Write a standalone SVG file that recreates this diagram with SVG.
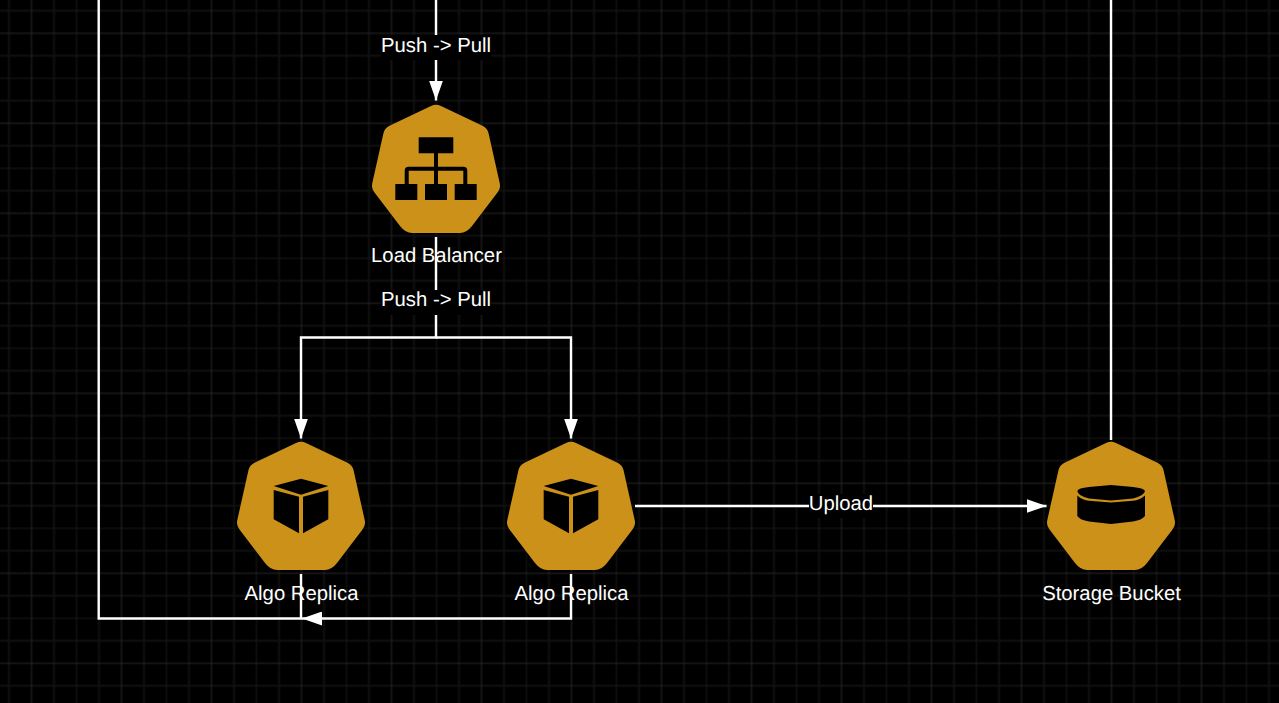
<svg xmlns="http://www.w3.org/2000/svg" width="1279" height="703" viewBox="0 0 1279 703">
<defs>
<pattern id="grid" width="90" height="90" x="7.500" y="9.300" patternUnits="userSpaceOnUse">
<path d="M1.500 0V90M46.500 0V90M0 1.500H90M0 46.500H90" stroke="#101010" stroke-width="2" fill="none"/>
<path d="M69 0V90M0 69H90" stroke="#181818" stroke-width="1" fill="none"/>
<path d="M24 0V90M0 24H90" stroke="#262626" stroke-width="1" fill="none"/>
</pattern>
<marker id="arrow" viewBox="0 0 20 14" refX="20" refY="7" markerWidth="20" markerHeight="14" markerUnits="userSpaceOnUse" orient="auto"><path d="M0 0L20 7L0 14Z" fill="#fff"/></marker>
<path id="hept" d="M-5 1.500Q0 -1 5 1.500L47 21.500Q51.500 24 52.500 28.500L63.800 79Q64.800 84 61.500 88L36 121.500Q30.500 128.500 24 128.500H-24Q-30.500 128.500 -36 121.500L-61.500 88Q-64.800 84 -63.800 79L-52.500 28.500Q-51.500 24 -47 21.500Z" fill="#cb9119"/>
<g id="cube"><path d="M0 -27.300L27.300 -20L0 -11.300L-27.300 -20Z"/><path d="M-27.300 -16L-2 -9.300V27.300L-27.300 13.300Z"/><path d="M27.300 -16L2 -9.300V27.300L27.300 13.300Z"/></g>
</defs>
<style>
.c{fill:none;stroke:#fff;stroke-width:2.400}
text{font-family:"Liberation Sans",Arial,sans-serif;font-size:20.300px;fill:#fff;text-anchor:middle;text-rendering:geometricPrecision}
.bg{fill:#000}
</style>
<rect width="1279" height="703" fill="#000"/>
<rect width="1279" height="703" fill="url(#grid)"/>
<g id="connectors">
<path class="c" d="M436 0V100.500" marker-end="url(#arrow)"/>
<path class="c" d="M436 237V337.500H301V438.500" marker-end="url(#arrow)"/>
<path class="c" d="M436 337.500H571V438.500" marker-end="url(#arrow)"/>
<path class="c" d="M635 506H1046.500" marker-end="url(#arrow)"/>
<path class="c" d="M571 574V618.500H302" marker-end="url(#arrow)"/>
<path class="c" d="M301 574V618.500H98.700V0"/>
<path class="c" d="M1111 440V0"/>
<rect class="bg" x="381" y="35" width="110" height="25"/>
<rect class="bg" x="381" y="290" width="110" height="25"/>
<rect class="bg" x="809" y="494" width="64" height="24"/>
<text x="436" y="51.500">Push -&gt; Pull</text>
<text x="436" y="306">Push -&gt; Pull</text>
<text x="841" y="510">Upload</text>
</g>
<g id="load-balancer">
<use href="#hept" x="436" y="104.500"/>
<path d="M418.700 137.300H453.300V153.300H418.700ZM395.300 184H417.300V200H395.300ZM425 184H447V200H425ZM454.700 184H476.700V200H454.700Z"/>
<path d="M436 153V184M406.700 184V170.700Q406.700 168.700 408.700 168.700H463.300Q465.300 168.700 465.300 170.700V184" fill="none" stroke="#000" stroke-width="4"/>
<text x="436.500" y="262">Load Balancer</text>
</g>
<g id="algo-replica-1">
<use href="#hept" x="301" y="441.500"/>
<use href="#cube" x="301" y="506"/>
<text x="301.500" y="600">Algo Replica</text>
</g>
<g id="algo-replica-2">
<use href="#hept" x="571" y="441.500"/>
<use href="#cube" x="571" y="506"/>
<text x="571.500" y="600">Algo Replica</text>
</g>
<g id="storage-bucket">
<use href="#hept" x="1111" y="441.500"/>
<path d="M1077.300 491Q1078 488 1089 487L1111 485L1133 487Q1144 488 1145 491Q1144 496 1133 498.500L1111 500.500L1089 498.500Q1078 496 1077.300 491Z"/>
<path d="M1077.300 495.500Q1082 500 1089 500.800L1111 502.500L1133 500.800Q1140 500 1145 495.500V516Q1142 520 1133 521.500L1111 524L1089 521.500Q1080 520 1077.300 516Z"/>
<text x="1111.500" y="600">Storage Bucket</text>
</g>
</svg>
